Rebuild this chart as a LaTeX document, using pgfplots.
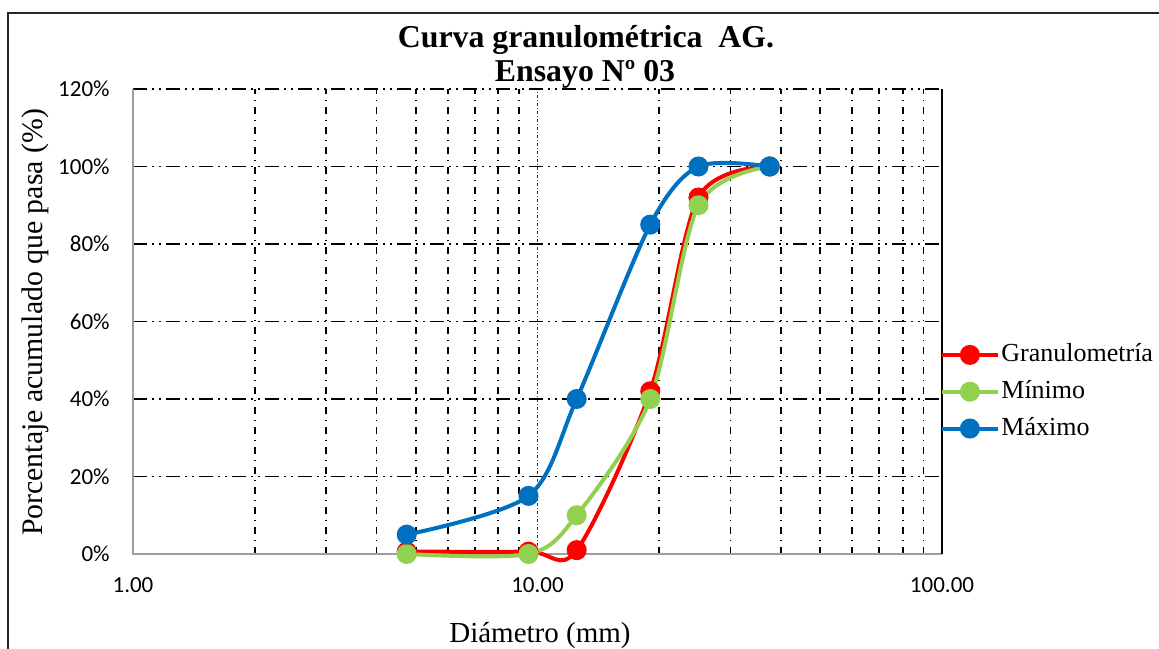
\documentclass[border=0pt]{standalone}
\usepackage{graphicx}
\usepackage{pgfplots}
\pgfplotsset{compat=1.18}
\usepackage{fontspec}
\setmainfont{Liberation Serif}
\newfontfamily\calibri{Carlito}
\definecolor{gRed}{HTML}{FF0000}
\definecolor{gGreen}{HTML}{92D050}
\definecolor{gBlue}{HTML}{0070C0}
\begin{document}
\begin{tikzpicture}
\begin{axis}[
  at={(66.5pt,47pt)}, anchor=south west,
  scale only axis, width=404.5pt, height=232.5pt,
  xmode=log, xmin=1, xmax=100, ymin=0, ymax=120,
  clip=false,
  axis line style={draw=none},
  tick style={draw=none},
  major tick length=0pt, minor tick length=0pt,
  xtick={1,10,100}, xticklabels={1.00,10.00,100.00},
  minor xtick={2,3,4,5,6,7,8,9,20,30,40,50,60,70,80,90},
  ytick={0,20,40,60,80,100,120},
  yticklabels={0\%,20\%,40\%,60\%,80\%,100\%,120\%},
  xticklabel style={font=\calibri\fontsize{11.5}{13}\selectfont, anchor=center, inner sep=0pt, yshift=-15.4pt},
  yticklabel style={font=\calibri\fontsize{11.5}{13}\selectfont, anchor=east, inner sep=0pt, xshift=-11.5pt},
  xmajorgrids, xminorgrids, ymajorgrids,
  major x grid style={black!80, line width=0.5pt, dash pattern=on 1.5pt off 1pt on 0.5pt off 1pt},
  minor x grid style={black, line width=0.9pt, dash pattern=on 3.5pt off 2.8pt on 0.8pt off 2.9pt},
  major y grid style={black, line width=0.9pt, dash pattern=on 7pt off 2.5pt on 1pt off 2.5pt on 1pt off 2.5pt},
  xlabel={Diámetro (mm)},
  ylabel={Porcentaje acumulado que pasa (\%)},
  every axis x label/.style={at={(rel axis cs:0.503,-0.191)}, anchor=base, font=\fontsize{14.5}{17}\selectfont},
  every axis y label/.style={at={(rel axis cs:-0.121,0.498)}, rotate=90, anchor=center, font=\fontsize{14.9}{17}\selectfont},
  legend style={draw=none, fill=none, at={(rel axis cs:0.9975,0.349)}, anchor=west,
    font=\fontsize{13}{15}\selectfont, row sep=0pt, inner sep=0pt, column sep=0pt,
    nodes={inner sep=1pt, text height=11.7pt, text depth=4.7pt}},
  legend cell align=left,
  legend image code/.code={\draw[#1, mark repeat=2, mark phase=2] plot coordinates {(0pt,0pt)(13.75pt,0pt)(27.5pt,0pt)};},
]
\draw[color=black!38, line width=1pt] (rel axis cs:0,1) -- (rel axis cs:0,0) -- (rel axis cs:1,0);
\draw[black, line width=0.8pt] (rel axis cs:1,0) -- (rel axis cs:1,1);
\addplot[gRed, line width=2pt, smooth, mark=*, mark size=4pt, mark options={solid, fill=gRed, draw=gRed}]
  coordinates {(4.75,0.6)(9.5,0.6)(12.5,1)(19,42)(25,92)(37.5,100)};
\addlegendentry{Granulometría}
\addplot[gGreen, line width=2pt, smooth, mark=*, mark size=4pt, mark options={solid, fill=gGreen, draw=gGreen}]
  coordinates {(4.75,0)(9.5,0)(12.5,10)(19,40)(25,90)(37.5,100)};
\addlegendentry{Mínimo}
\addplot[gBlue, line width=2pt, smooth, mark=*, mark size=4pt, mark options={solid, fill=gBlue, draw=gBlue}]
  coordinates {(4.75,5)(9.5,15)(12.5,40)(19,85)(25,100)(37.5,100)};
\addlegendentry{Máximo}
\end{axis}
\node[font=\bfseries\fontsize{15.9}{18}\selectfont, anchor=base, inner sep=0pt] at (293pt,300.25pt) {Curva granulométrica\ \ AG.};
\node[font=\bfseries\fontsize{15.9}{18}\selectfont, anchor=base, inner sep=0pt] at (292.5pt,283pt) {Ensayo Nº 03};
\draw[line width=0.7pt, black!85] (4pt,-2pt) -- (4pt,317.5pt) -- (582pt,317.5pt);
\pgfresetboundingbox
\useasboundingbox (0pt,0pt) rectangle (579.5pt,324pt);
\end{tikzpicture}
\end{document}
